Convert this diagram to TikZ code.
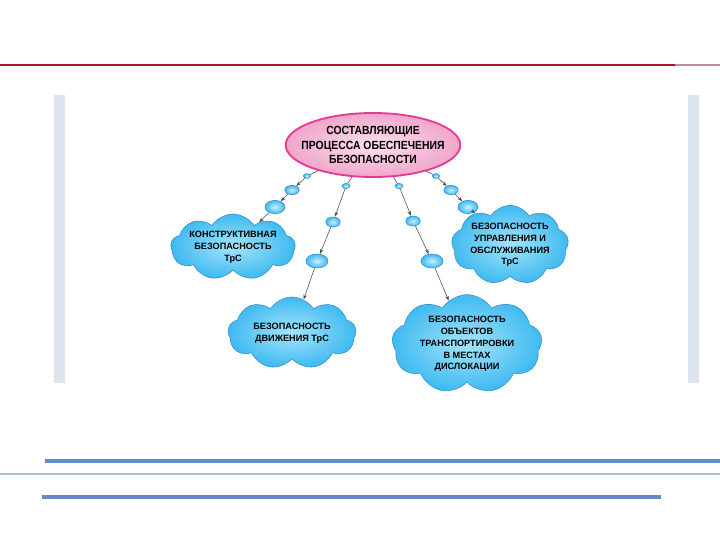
\documentclass[tikz,border=0pt]{standalone}
\usepackage{fontspec}
\setmainfont{Liberation Sans}
\newfontfamily\headfont[FakeStretch=0.88]{Liberation Sans}
\usetikzlibrary{shapes.symbols,shapes.geometric,arrows.meta}
\definecolor{cloudin}{RGB}{165,228,252}
\definecolor{cloudout}{RGB}{62,186,240}
\definecolor{cloudline}{RGB}{50,140,210}
\definecolor{pinkin}{RGB}{252,226,238}
\definecolor{pinkout}{RGB}{240,165,202}
\definecolor{pinkline}{RGB}{228,60,150}
\definecolor{barcol}{RGB}{220,228,238}
\definecolor{bluebar}{RGB}{100,140,196}
\tikzset{
    EL/.style ={ellipse, draw=pinkline, line width=1.3pt, inner color=pinkin, outer color=pinkout,
                minimum width=4.25cm, minimum height=1.6cm, align=center, inner xsep=-7pt, inner ysep=0pt,
                font=\headfont\bfseries\fontsize{8.4}{10.6}\selectfont},
    CL/.style ={cloud, cloud puffs=9, cloud puff arc=115, cloud ignores aspect, draw=cloudline,
                inner color=cloudin, outer color=cloudout, align=center, inner sep=0pt,
                font=\bfseries\fontsize{6.5}{8.4}\selectfont},
    BU/.style ={ellipse, draw=cloudline, line width=0.4pt, inner color=cloudin!60!white, outer color=cloudout, inner sep=0pt},
    AR/.style ={draw=black!70, line width=0.4pt, -{Stealth[length=3.5pt,width=2.5pt]}},
    LN/.style ={draw=black!70, line width=0.4pt}}
\begin{document}
\begin{tikzpicture}[x=0.025cm,y=-0.025cm]
        \useasboundingbox (0,0) rectangle (720,540);
        % frame
        \draw[line width=2pt, color={rgb,255:red,170;green,20;blue,40}] (0,65) -- (675,65);
        \draw[line width=2pt, color={rgb,255:red,190;green,140;blue,150}] (675,65) -- (720,65);
        \fill[barcol] (54,95) rectangle (65,383);
        \fill[barcol] (688,95) rectangle (699,383);
        \draw[line width=2.2pt, bluebar] (45,461) -- (720,461);
        \draw[line width=1.2pt, color={rgb,255:red,170;green,195;blue,212}] (0,474) -- (720,474);
        \draw[line width=2.2pt, bluebar] (42,497) -- (661,497);
        % nodes
        \node[EL] (0) at(373,145){СОСТАВЛЯЮЩИЕ\\ПРОЦЕССА ОБЕСПЕЧЕНИЯ\\БЕЗОПАСНОСТИ};
        \node[CL, minimum width=2.9cm, minimum height=1.65cm] (1) at(233,247){КОНСТРУКТИВНАЯ\\БЕЗОПАСНОСТЬ\\ТрС};
        \node[CL, minimum width=3.2cm, minimum height=1.8cm] (2) at(292,333){БЕЗОПАСНОСТЬ\\ДВИЖЕНИЯ ТрС};
        \node[CL, minimum width=3.75cm, minimum height=2.4cm] (3) at(467,344){БЕЗОПАСНОСТЬ\\ОБЪЕКТОВ\\ТРАНСПОРТИРОВКИ\\В МЕСТАХ\\ДИСЛОКАЦИИ};
        \node[CL, minimum width=2.9cm, minimum height=1.8cm] (4) at(510,245){БЕЗОПАСНОСТЬ\\УПРАВЛЕНИЯ И\\ОБСЛУЖИВАНИЯ\\ТрС};
        % bubbles
        \node[BU, minimum width=0.18cm, minimum height=0.12cm] (11) at(307,176){};
        \node[BU, minimum width=0.36cm, minimum height=0.23cm] (12) at(292,190){};
        \node[BU, minimum width=0.5cm, minimum height=0.33cm] (13) at(275,207){};
        \node[BU, minimum width=0.2cm, minimum height=0.13cm] (21) at(346,186){};
        \node[BU, minimum width=0.36cm, minimum height=0.25cm] (22) at(333,222){};
        \node[BU, minimum width=0.55cm, minimum height=0.35cm] (23) at(317,261){};
        \node[BU, minimum width=0.2cm, minimum height=0.13cm] (31) at(399,186){};
        \node[BU, minimum width=0.36cm, minimum height=0.25cm] (32) at(413,221){};
        \node[BU, minimum width=0.55cm, minimum height=0.35cm] (33) at(432,261){};
        \node[BU, minimum width=0.18cm, minimum height=0.12cm] (41) at(436,176){};
        \node[BU, minimum width=0.36cm, minimum height=0.23cm] (42) at(451,190){};
        \node[BU, minimum width=0.5cm, minimum height=0.33cm] (43) at(468,207){};
        % connectors
        \draw[LN] (0) --(11);
        \draw[AR] (11) --(12);
        \draw[AR] (12) --(13);
        \draw[AR] (13) --(1);
        \draw[LN] (0) --(21);
        \draw[AR] (21) --(22);
        \draw[AR] (22) --(23);
        \draw[AR] (23) --(2);
        \draw[LN] (0) --(31);
        \draw[AR] (31) --(32);
        \draw[AR] (32) --(33);
        \draw[AR] (33) --(3);
        \draw[LN] (0) --(41);
        \draw[AR] (41) --(42);
        \draw[AR] (42) --(43);
        \draw[AR] (43) --(4);
    \end{tikzpicture}
\end{document}
